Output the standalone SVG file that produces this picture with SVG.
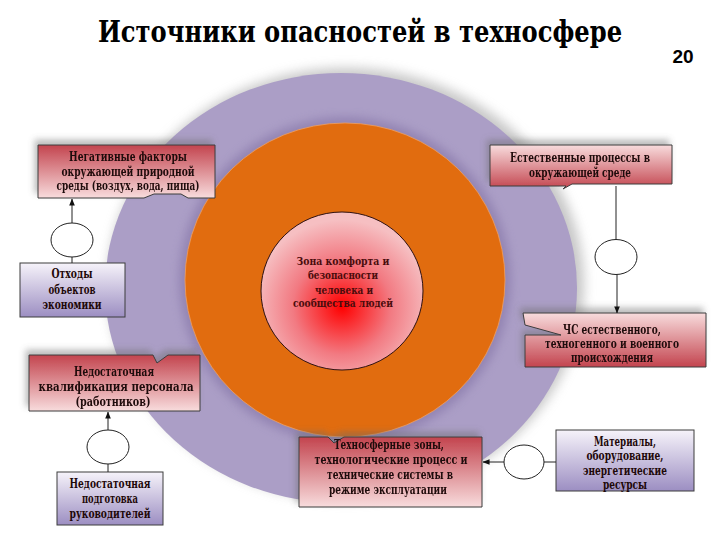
<svg xmlns="http://www.w3.org/2000/svg" width="720" height="540" viewBox="0 0 720 540">
<defs>
<style>
.t{font-family:"DejaVu Serif",serif;font-weight:bold;font-size:12px;fill:#1e0808;text-anchor:middle}
.c{font-family:"DejaVu Serif",serif;font-weight:bold;font-size:11.5px;fill:#4a0c0c;text-anchor:middle}
.h{font-family:"DejaVu Serif",serif;font-weight:bold;font-size:30px;fill:#000;text-anchor:middle}
.n{font-family:"Liberation Sans","DejaVu Sans",sans-serif;font-weight:bold;font-size:19px;fill:#000;text-anchor:middle}
.rb{fill:url(#redDown);stroke:#3c3c3c;stroke-width:1}
.ru{fill:url(#redUp);stroke:#3c3c3c;stroke-width:1}
.pb{fill:url(#purp);stroke:#3c3c3c;stroke-width:1}
.ov{fill:#fff;stroke:#222;stroke-width:1}
.ln{stroke:#222;stroke-width:1;fill:none}
</style>
<linearGradient id="redDown" x1="0" y1="0" x2="0" y2="1">
<stop offset="0" stop-color="#C3444E"/><stop offset="1" stop-color="#F8DCDD"/>
</linearGradient>
<linearGradient id="redUp" x1="0" y1="0" x2="0" y2="1">
<stop offset="0" stop-color="#F8DCDD"/><stop offset="1" stop-color="#C3444E"/>
</linearGradient>
<linearGradient id="purp" x1="0" y1="0" x2="0" y2="1">
<stop offset="0" stop-color="#F6F3FA"/><stop offset="1" stop-color="#9C8EC2"/>
</linearGradient>
<radialGradient id="core" cx="0.5" cy="0.6" r="0.55">
<stop offset="0" stop-color="#FF0000"/><stop offset="0.55" stop-color="#F27A82"/><stop offset="1" stop-color="#F6BFC2"/>
</radialGradient>
<filter id="blur8" x="-20%" y="-20%" width="140%" height="140%"><feGaussianBlur stdDeviation="6"/></filter>
<filter id="blur4" x="-20%" y="-20%" width="140%" height="140%"><feGaussianBlur stdDeviation="5"/></filter>
<filter id="sh" x="-20%" y="-40%" width="140%" height="180%">
<feDropShadow dx="-3" dy="-5" stdDeviation="3" flood-color="#6a6a6a" flood-opacity="0.45"/>
</filter>
<marker id="ar" viewBox="0 0 8 8" refX="7.5" refY="4" markerWidth="7" markerHeight="7" markerUnits="userSpaceOnUse" orient="auto">
<path d="M0,0.8 L8,4 L0,7.2 Z" fill="#111"/>
</marker>
</defs>
<rect width="720" height="540" fill="#fff"/>

<g id="title">
<g transform="translate(360,0) scale(0.81,1)">
<text class="h" x="0" y="42" textLength="647" lengthAdjust="spacingAndGlyphs">Источники опасностей в техносфере</text>
</g>
<text class="n" x="683" y="63">20</text>
</g>

<g id="rings">
<ellipse cx="346" cy="284" rx="238" ry="216" fill="#9a9a9a" opacity="0.55" filter="url(#blur8)"/>
<ellipse cx="341" cy="288" rx="236" ry="215" fill="#AB9EC6"/>
<ellipse cx="345" cy="280" rx="166" ry="163" fill="#8D7EAE" opacity="0.8" filter="url(#blur4)"/>
<ellipse cx="345" cy="280" rx="160" ry="157" fill="#E16C0F" stroke="#F0A060" stroke-width="0.8"/>
</g>

<g id="core-zone">
<ellipse cx="342" cy="291" rx="81" ry="79" fill="url(#core)" stroke="#2e1010" stroke-width="1"/>
<g transform="translate(343,0) scale(0.85,1)">
<text class="c" x="0" y="265" textLength="109.4" lengthAdjust="spacingAndGlyphs">Зона комфорта и</text>
<text class="c" x="0" y="279" textLength="82.4" lengthAdjust="spacingAndGlyphs">безопасности</text>
<text class="c" x="1.2" y="294" textLength="68.2" lengthAdjust="spacingAndGlyphs">человека и</text>
<text class="c" x="0" y="307" textLength="117.6" lengthAdjust="spacingAndGlyphs">сообщества людей</text>
</g>
</g>

<g id="negative-factors" filter="url(#sh)">
<path class="rb" d="M38,145 H215 V198 H188 L181,194 H154 L144,198 H38 Z"/>
<g transform="translate(128,0) scale(0.85,1)">
<text class="t" x="0" y="161" textLength="138.8" lengthAdjust="spacingAndGlyphs">Негативные факторы</text>
<text class="t" x="0" y="176" textLength="156.5" lengthAdjust="spacingAndGlyphs">окружающей природной</text>
<text class="t" x="0" y="190" textLength="168.2" lengthAdjust="spacingAndGlyphs">среды (воздух, вода, пища)</text>
</g>
</g>

<g id="natural-processes" filter="url(#sh)">
<path class="ru" d="M490,145 H672 V184 H572 L563,189 L566,186 H490 Z"/>
<g transform="translate(580,0) scale(0.85,1)">
<text class="t" x="0" y="162" textLength="164.7" lengthAdjust="spacingAndGlyphs">Естественные процессы в</text>
<text class="t" x="0" y="177" textLength="120" lengthAdjust="spacingAndGlyphs">окружающей среде</text>
</g>
</g>

<g id="emergencies" filter="url(#sh)">
<path class="ru" d="M523,313 H706 V367 H525 V335 H561 L525,325 Z"/>
<g transform="translate(612,0) scale(0.85,1)">
<text class="t" x="0" y="334" textLength="115.3" lengthAdjust="spacingAndGlyphs">ЧС естественного,</text>
<text class="t" x="0" y="348" textLength="157.6" lengthAdjust="spacingAndGlyphs">техногенного и военного</text>
<text class="t" x="0" y="362" textLength="96.5" lengthAdjust="spacingAndGlyphs">происхождения</text>
</g>
</g>

<g id="qualification" filter="url(#sh)">
<path class="rb" d="M29,355 H153 L157,363 L168,355 H200 V411 H29 Z"/>
<g transform="translate(114,0) scale(0.85,1)">
<text class="t" x="0" y="376" textLength="94.1" lengthAdjust="spacingAndGlyphs">Недостаточная</text>
<text class="t" x="2.4" y="391" textLength="182.4" lengthAdjust="spacingAndGlyphs">квалификация персонала</text>
<text class="t" x="-1.2" y="406" textLength="88.2" lengthAdjust="spacingAndGlyphs">(работников)</text>
</g>
</g>

<g id="technosphere-zones" filter="url(#sh)">
<path class="rb" d="M299,437 H328 L334,443 L344,437 H482 V507 H299 Z"/>
<g transform="translate(390,0) scale(0.85,1)">
<text class="t" x="-1.2" y="449" textLength="129.4" lengthAdjust="spacingAndGlyphs">Техносферные зоны,</text>
<text class="t" x="1.2" y="464" textLength="180" lengthAdjust="spacingAndGlyphs">технологические процесс и</text>
<text class="t" x="0" y="479" textLength="148.2" lengthAdjust="spacingAndGlyphs">технические системы в</text>
<text class="t" x="-2.4" y="494" textLength="138.8" lengthAdjust="spacingAndGlyphs">режиме эксплуатации</text>
</g>
</g>

<g id="waste">
<rect class="pb" x="20" y="263" width="105" height="54"/>
<g transform="translate(72,0) scale(0.85,1)">
<text class="t" x="0" y="278" textLength="48.2" lengthAdjust="spacingAndGlyphs">Отходы</text>
<text class="t" x="0" y="294" textLength="55.3" lengthAdjust="spacingAndGlyphs">объектов</text>
<text class="t" x="0" y="309" textLength="69.4" lengthAdjust="spacingAndGlyphs">экономики</text>
</g>
</g>

<g id="managers-training">
<rect class="pb" x="57" y="472" width="106" height="53"/>
<g transform="translate(110,0) scale(0.85,1)">
<text class="t" x="0" y="488" textLength="95.3" lengthAdjust="spacingAndGlyphs">Недостаточная</text>
<text class="t" x="0" y="503" textLength="65.9" lengthAdjust="spacingAndGlyphs">подготовка</text>
<text class="t" x="0" y="518" textLength="95.3" lengthAdjust="spacingAndGlyphs">руководителей</text>
</g>
</g>

<g id="materials">
<rect class="pb" x="556" y="430" width="138" height="61"/>
<g transform="translate(625,0) scale(0.85,1)">
<text class="t" x="0" y="446" textLength="72.9" lengthAdjust="spacingAndGlyphs">Материалы,</text>
<text class="t" x="0" y="460" textLength="90.6" lengthAdjust="spacingAndGlyphs">оборудование,</text>
<text class="t" x="0" y="475" textLength="98.8" lengthAdjust="spacingAndGlyphs">энергетические</text>
<text class="t" x="0" y="489" textLength="51.8" lengthAdjust="spacingAndGlyphs">ресурсы</text>
</g>
</g>

<g id="connectors">
<line class="ln" x1="72" y1="263" x2="72" y2="257"/>
<line class="ln" x1="72" y1="223" x2="72" y2="199" marker-end="url(#ar)"/>
<ellipse class="ov" cx="72" cy="240" rx="21" ry="17"/>

<line class="ln" x1="616" y1="186" x2="616" y2="240"/>
<line class="ln" x1="617" y1="274" x2="617" y2="313" marker-end="url(#ar)"/>
<ellipse class="ov" cx="616" cy="257" rx="21" ry="17.5"/>

<line class="ln" x1="108" y1="472" x2="108" y2="464"/>
<line class="ln" x1="108" y1="430" x2="108" y2="412" marker-end="url(#ar)"/>
<ellipse class="ov" cx="108" cy="447" rx="21" ry="17"/>

<line class="ln" x1="556" y1="462" x2="544" y2="462"/>
<line class="ln" x1="504" y1="462" x2="483" y2="462" marker-end="url(#ar)"/>
<ellipse class="ov" cx="524" cy="462" rx="20" ry="17"/>
</g>
</svg>
